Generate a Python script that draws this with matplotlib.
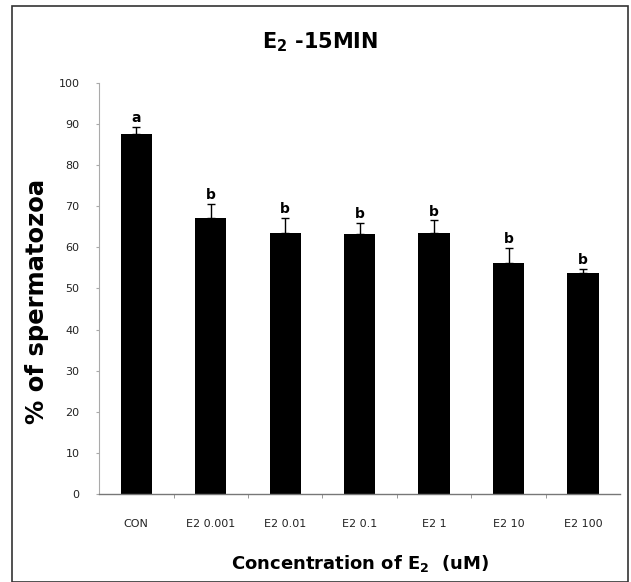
import numpy as np
import matplotlib.pyplot as plt
from matplotlib.patches import Rectangle

categories = ['CON', 'E2 0.001', 'E2 0.01', 'E2 0.1', 'E2 1', 'E2 10', 'E2 100']
values = [87.5, 67.2, 63.5, 63.2, 63.5, 56.1, 53.8]
errors = [1.8, 3.4, 3.6, 2.7, 3.0, 3.8, 1.0]
letters = ['a', 'b', 'b', 'b', 'b', 'b', 'b']
y_ticks = list(range(0, 101, 10))

fig = plt.figure(figsize=(6.31, 5.82), dpi=100)
ax = fig.add_axes([0.157, 0.151, 0.826, 0.707])

x = np.arange(len(categories))
ax.bar(x, values, width=0.42, color='black', zorder=2)
ax.errorbar(x, values, yerr=[np.zeros(len(x)), errors], fmt='none',
            ecolor='black', elinewidth=1, capsize=3, capthick=1, zorder=3)
for xi, v, e, t in zip(x, values, errors, letters):
    ax.text(xi, v + e + 0.4, t, ha='center', va='bottom',
            fontsize=10, fontweight='bold')

ax.set_xlim(-0.5, len(categories) - 0.5)
ax.set_ylim(0, 100)
ax.set_yticks(y_ticks)
ax.set_xticks(x)
ax.set_xticklabels(categories)
ax.set_xticks(np.arange(0.5, len(categories) - 0.5), minor=True)
ax.tick_params(axis='x', which='major', length=0, pad=18, labelsize=8, labelcolor='#222222')
ax.tick_params(axis='x', which='minor', length=3, color='#888888', direction='out')
ax.tick_params(axis='y', length=2, color='#aaaaaa', pad=12, labelsize=8, labelcolor='#222222')

for side in ['top', 'right']:
    ax.spines[side].set_visible(False)
ax.spines['left'].set_color('#aaaaaa')
ax.spines['left'].set_linestyle((0, (2, 1)))
ax.spines['left'].set_linewidth(0.8)
ax.spines['bottom'].set_color('#777777')
ax.spines['bottom'].set_linewidth(1.0)

fig.text(0.059, 1 - 301 / 582, '% of spermatozoa', rotation=90, ha='center', va='center',
         fontsize=17.5, fontweight='heavy')
fig.text(320 / 631, 1 - 42 / 582, 'E$_\\mathregular{2}$ -15MIN', ha='center', va='center',
         fontsize=15, fontweight='bold')
fig.text(360 / 631, 1 - 563 / 582, 'Concentration of E$_\\mathbf{2}$  (uM)', ha='center', va='center',
         fontsize=13, fontweight='heavy')

fig.patches.append(Rectangle((12 / 631, 0.0), 616 / 631, 1 - 6 / 582, transform=fig.transFigure,
                             fill=False, edgecolor='#333333', linewidth=1.2))

fig.savefig('out.png', dpi=100)
